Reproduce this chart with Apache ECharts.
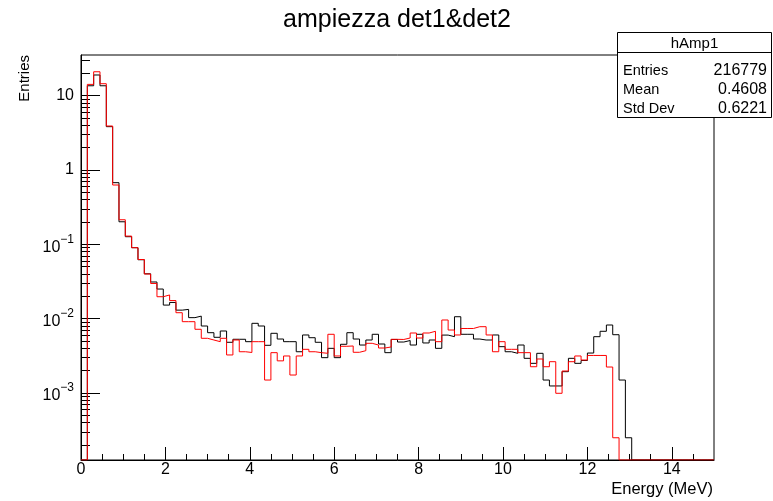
<!DOCTYPE html>
<html>
<head>
<meta charset="utf-8">
<script src="https://cdn.jsdelivr.net/npm/echarts@6/dist/echarts.min.js"></script>
<style>
  html, body { margin: 0; padding: 0; background: #fff; }
  #chart { width: 773px; height: 501px; }
</style>
</head>
<body>
<div id="chart"></div>
<script>
// Histogram binning: 100 bins of 0.15 MeV from 0 to 15 MeV
const histLow = 0;
const histHigh = 15;
const binWidth = 0.15;

// hAmp1 (det1, black) bin contents
const det1 = [
  0, 13.6, 19.0, 13.6, 3.83, 0.675, 0.201, 0.1265, 0.090, 0.062,
  0.0401, 0.0311, 0.0250, 0.0152, 0.0165, 0.0130, 0.0133, 0.0103, 0.0108, 0.00795,
  0.00646, 0.00560, 0.00681, 0.00480, 0.00527, 0.00527, 0.00489, 0.00864, 0.00795, 0.00437,
  0.00634, 0.00531, 0.00489, 0.00489, 0.00358, 0.00602, 0.00553, 0.00480, 0.00298, 0.00398,
  0.00298, 0.00451, 0.00646, 0.00531, 0.00441, 0.00515, 0.00615, 0.00455, 0.00348, 0.00524,
  0.00484, 0.00507, 0.00441, 0.00615, 0.00470, 0.00515, 0.00398, 0.00600, 0.00571, 0.0106,
  0.00615, 0.00615, 0.00531, 0.00515, 0.00515, 0.00602, 0.00419, 0.00358, 0.00341, 0.00441,
  0.00292, 0.00250, 0.00341, 0.00149, 0.00124, 0.00124, 0.00193, 0.00292, 0.00250, 0.00273,
  0.00344, 0.00571, 0.00675, 0.00820, 0.00607, 0.00149, 0.000249, 0, 0, 0,
  0, 0, 0, 0, 0, 0, 0, 0, 0, 0
];

// det2 (red) bin contents
const det2 = [
  0, 14.2, 21.0, 14.5, 3.91, 0.628, 0.214, 0.129, 0.090, 0.0624,
  0.0398, 0.0297, 0.0197, 0.0208, 0.0175, 0.0120, 0.00909, 0.00909, 0.00718, 0.00543,
  0.00515, 0.00489, 0.00543, 0.00324, 0.00515, 0.00358, 0.00350, 0.00489, 0.00489, 0.00149,
  0.00348, 0.00270, 0.00314, 0.00174, 0.00314, 0.00386, 0.00358, 0.00348, 0.00341, 0.00615,
  0.00314, 0.00424, 0.00428, 0.00352, 0.00370, 0.00465, 0.00441, 0.00402, 0.00415, 0.00526,
  0.00524, 0.00548, 0.00640, 0.00548, 0.00640, 0.00675, 0.00489, 0.00958, 0.00702, 0.00602,
  0.00736, 0.00736, 0.00778, 0.00778, 0.00602, 0.00358, 0.00489, 0.00386, 0.00386, 0.00348,
  0.00348, 0.00225, 0.00286, 0.00225, 0.00263, 0.000988, 0.00197, 0.00263, 0.00314, 0.00277,
  0.00319, 0.00319, 0.00319, 0.00223, 0.000249, 0, 0, 0, 0, 0,
  0, 0, 0, 0, 0, 0, 0, 0, 0, 0
];

// Axis ranges and ticks
const yMin = 1.25e-4;
const yMax = 35.3;
const xMajorTicks = [0, 2, 4, 6, 8, 10, 12, 14];
const xMinorTicks = [0.5, 1, 1.5, 2.5, 3, 3.5, 4.5, 5, 5.5, 6.5, 7, 7.5, 8.5, 9, 9.5,
                     10.5, 11, 11.5, 12.5, 13, 13.5, 14.5];
const yDecades = [1e-3, 1e-2, 1e-1, 1, 10];
const yMinorMantissas = [2, 3, 4, 5, 6, 7, 8, 9];

// Stats box contents
const statsTitle = 'hAmp1';
const statsNames = ['Entries', 'Mean', 'Std Dev'];
const statsValues = ['216779', '0.4608', '0.6221'];

const FONT = '"Liberation Sans", Arial, Helvetica, sans-serif';

const yMinorTicks = [];
for (let e = -4; e <= 1; e++) {
  yMinorMantissas.forEach(m => {
    const v = m * Math.pow(10, e);
    if (v > yMin && v < yMax) yMinorTicks.push(v);
  });
}

// Step outline of a histogram: one point per lower bin edge plus the upper edge.
// Empty bins sit on the bottom of the frame, as on a log scale.
function histOutline(vals) {
  const pts = vals.map((v, i) => [histLow + i * binWidth, v > 0 ? v : yMin]);
  const last = vals[vals.length - 1];
  pts.push([histHigh, last > 0 ? last : yMin]);
  return pts;
}

function logLabel(v) {
  const e = Math.round(Math.log10(v));
  if (e === 0) return '1';
  if (e === 1) return '10';
  return '{b|10}{e|' + (e < 0 ? '\u2212' : '') + Math.abs(e) + '}';
}

const chart = echarts.init(document.getElementById('chart'), null, { renderer: 'canvas' });

chart.setOption({
  animation: false,
  backgroundColor: '#fff',
  grid: {
    left: 81, right: 59, top: 55, bottom: 41,
    show: true, borderColor: '#000', borderWidth: 1, backgroundColor: 'transparent'
  },
  xAxis: [
    {
      type: 'value', min: histLow, max: histHigh, position: 'bottom',
      axisLine: { show: true, lineStyle: { color: '#000', width: 1 } },
      axisTick: { show: true, inside: true, length: 13, customValues: xMajorTicks,
                  lineStyle: { color: '#000', width: 1 } },
      axisLabel: { customValues: xMajorTicks, color: '#000', fontSize: 16,
                   fontFamily: FONT, margin: 2 },
      splitLine: { show: false }
    },
    {
      type: 'value', min: histLow, max: histHigh, position: 'bottom',
      axisLine: { show: false },
      axisTick: { show: true, inside: true, length: 6, customValues: xMinorTicks,
                  lineStyle: { color: '#000', width: 1 } },
      axisLabel: { show: false },
      splitLine: { show: false }
    }
  ],
  yAxis: [
    {
      type: 'log', logBase: 10, min: yMin, max: yMax, position: 'left',
      axisLine: { show: true, lineStyle: { color: '#000', width: 1 } },
      axisTick: { show: true, inside: true, length: 19, customValues: yDecades,
                  lineStyle: { color: '#000', width: 1 } },
      axisLabel: {
        customValues: yDecades, color: '#000', fontSize: 16, fontFamily: FONT, margin: 7,
        formatter: logLabel,
        rich: {
          b: { fontSize: 16, fontFamily: FONT, color: '#000', lineHeight: 22, verticalAlign: 'bottom' },
          e: { fontSize: 12, fontFamily: FONT, color: '#000', lineHeight: 12, verticalAlign: 'top' }
        }
      },
      splitLine: { show: false }
    },
    {
      type: 'log', logBase: 10, min: yMin, max: yMax, position: 'left',
      axisLine: { show: false },
      axisTick: { show: true, inside: true, length: 9, customValues: yMinorTicks,
                  lineStyle: { color: '#000', width: 1 } },
      axisLabel: { show: false },
      splitLine: { show: false }
    }
  ],
  series: [
    {
      name: 'hAmp1', type: 'line', step: 'end', xAxisIndex: 0, yAxisIndex: 0,
      data: histOutline(det1), symbol: 'none', clip: true,
      lineStyle: { color: '#000000', width: 1 }, z: 2
    },
    {
      name: 'det2', type: 'line', step: 'end', xAxisIndex: 0, yAxisIndex: 0,
      data: histOutline(det2), symbol: 'none', clip: true,
      lineStyle: { color: '#ff0000', width: 1 }, z: 3
    }
  ],
  graphic: [
    {
      type: 'text', x: 397, y: 20, z: 10,
      style: { text: 'ampiezza det1&det2', fill: '#000', font: '25px ' + FONT,
               textAlign: 'center', textVerticalAlign: 'middle' }
    },
    {
      type: 'text', x: 25, y: 55, rotation: Math.PI / 2, z: 10,
      style: { text: 'Entries', fill: '#000', font: '15px ' + FONT,
               textAlign: 'right', textVerticalAlign: 'middle' }
    },
    {
      type: 'text', x: 713, y: 489, z: 10,
      style: { text: 'Energy (MeV)', fill: '#000', font: '16.5px ' + FONT,
               textAlign: 'right', textVerticalAlign: 'middle' }
    },
    {
      type: 'group', z: 20,
      children: [
        { type: 'rect', shape: { x: 617.5, y: 32.5, width: 154, height: 85 },
          style: { fill: '#fff', stroke: '#000', lineWidth: 1 }, z: 20 },
        { type: 'line', shape: { x1: 617.5, y1: 52.5, x2: 771.5, y2: 52.5 },
          style: { stroke: '#000', lineWidth: 1 }, z: 21 },
        { type: 'text', x: 694.5, y: 44, z: 21,
          style: { text: statsTitle, fill: '#000', font: '15px ' + FONT,
                   textAlign: 'center', textVerticalAlign: 'middle' } }
      ].concat(statsNames.map((n, i) => ({
        type: 'text', x: 623, y: 71 + i * 19, z: 21,
        style: { text: n, fill: '#000', font: '14.5px ' + FONT,
                 textAlign: 'left', textVerticalAlign: 'middle' }
      }))).concat(statsValues.map((v, i) => ({
        type: 'text', x: 767, y: 71 + i * 19, z: 21,
        style: { text: v, fill: '#000', font: '16px ' + FONT,
                 textAlign: 'right', textVerticalAlign: 'middle' }
      })))
    }
  ]
});
</script>
</body>
</html>
